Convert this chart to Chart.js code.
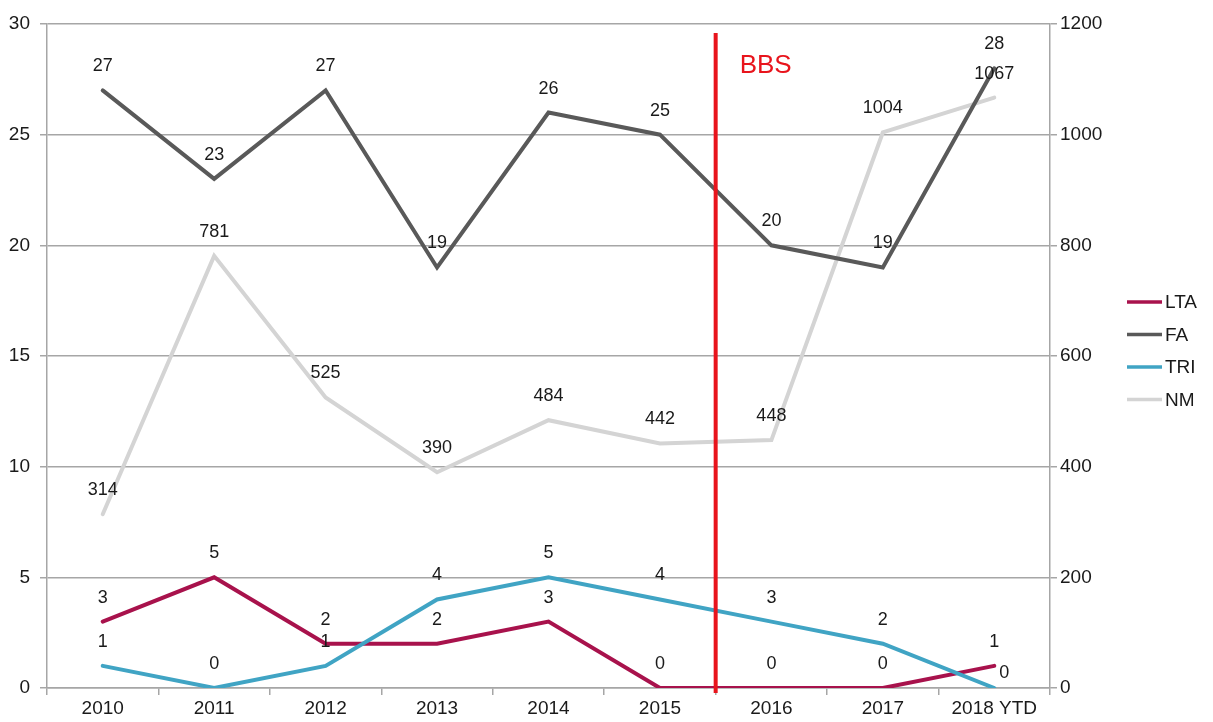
<!DOCTYPE html>
<html>
<head>
<meta charset="utf-8">
<script src="https://cdn.jsdelivr.net/npm/chart.js@4"></script>
<style>
  html, body { margin: 0; padding: 0; background: #ffffff; }
  #wrap { width: 1213px; height: 722px; position: relative; }
</style>
</head>
<body>
<div id="wrap"><canvas id="c" width="1213" height="722"></canvas></div>
<script>
const categories = ["2010", "2011", "2012", "2013", "2014", "2015", "2016", "2017", "2018 YTD"];
const ltaValues = [3, 5, 2, 2, 3, 0, 0, 0, 1];
const faValues  = [27, 23, 27, 19, 26, 25, 20, 19, 28];
const triValues = [1, 0, 1, 4, 5, 4, 3, 2, 0];
const nmValues  = [314, 781, 525, 390, 484, 442, 448, 1004, 1067];
const leftTicks = [0, 5, 10, 15, 20, 25, 30];
const rightTicks = [0, 200, 400, 600, 800, 1000, 1200];
const markerLabel = "BBS";
const markerAfterCategory = "2015";

const FONT = "'Liberation Sans', Arial, sans-serif";
const TEXT = "#1a1a1a";
const GRID = "#a6a6a6";

const colors = { LTA: "#a8124c", FA: "#595959", TRI: "#40a4c4", NM: "#d4d4d4" };

const labelPlugin = {
  id: "valueLabels",
  afterDatasetsDraw(chart) {
    const ctx = chart.ctx;
    const xs = chart.scales.x;
    const area = chart.chartArea;
    const i = categories.indexOf(markerAfterCategory);
    const mx = (xs.getPixelForValue(i) + xs.getPixelForValue(i + 1)) / 2;
    ctx.save();
    ctx.strokeStyle = "#e8141c";
    ctx.lineWidth = 4;
    ctx.beginPath();
    ctx.moveTo(mx, area.top + 9);
    ctx.lineTo(mx, area.bottom + 5);
    ctx.stroke();
    ctx.fillStyle = "#e8141c";
    ctx.font = "26px " + FONT;
    ctx.textAlign = "left";
    ctx.textBaseline = "middle";
    ctx.fillText(markerLabel, mx + 24, area.top + 42);
    ctx.restore();

    ctx.save();
    ctx.font = "18px " + FONT;
    ctx.fillStyle = TEXT;
    ctx.textAlign = "center";
    ctx.textBaseline = "middle";
    chart.data.datasets.forEach((ds, di) => {
      const meta = chart.getDatasetMeta(di);
      meta.data.forEach((pt, pi) => {
        let dx = 0, dy = -24;
        if (ds.label === "TRI" && pi === categories.length - 1) { dx = 10; dy = -15; }
        ctx.fillText(String(ds.data[pi]), pt.x + dx, pt.y + dy);
      });
    });
    ctx.restore();
  },
  afterDraw(chart) {
    const ctx = chart.ctx;
    const area = chart.chartArea;
    const x0 = area.right + 77;
    const y0 = area.top + 278;
    ctx.save();
    ctx.font = "19px " + FONT;
    ctx.textAlign = "left";
    ctx.textBaseline = "middle";
    chart.data.datasets.forEach((ds, k) => {
      const y = y0 + k * 32.5;
      ctx.strokeStyle = ds.borderColor;
      ctx.lineWidth = 3.5;
      ctx.beginPath();
      ctx.moveTo(x0, y);
      ctx.lineTo(x0 + 35, y);
      ctx.stroke();
      ctx.fillStyle = TEXT;
      ctx.fillText(ds.label, x0 + 38, y + 1);
    });
    ctx.restore();
  }
};

new Chart(document.getElementById("c"), {
  type: "line",
  data: {
    labels: categories,
    datasets: [
      { label: "LTA", data: ltaValues, borderColor: colors.LTA, yAxisID: "y", order: 2 },
      { label: "FA",  data: faValues,  borderColor: colors.FA,  yAxisID: "y", order: 3 },
      { label: "TRI", data: triValues, borderColor: colors.TRI, yAxisID: "y", order: 1 },
      { label: "NM",  data: nmValues,  borderColor: colors.NM,  yAxisID: "y1", order: 4 }
    ]
  },
  options: {
    responsive: false,
    animation: false,
    devicePixelRatio: 1,
    elements: {
      line: { borderWidth: 4, tension: 0, borderCapStyle: "round", borderJoinStyle: "miter", fill: false },
      point: { radius: 0, hoverRadius: 0 }
    },
    layout: { padding: { top: 24, right: 101, left: 0, bottom: 0 } },
    plugins: { legend: { display: false }, tooltip: { enabled: false } },
    scales: {
      x: {
        offset: true,
        grid: { offset: true, drawOnChartArea: false, color: GRID, lineWidth: 1.5, tickLength: 7 },
        border: { color: GRID, width: 1.5 },
        ticks: { color: TEXT, font: { family: FONT, size: 19 }, padding: 2, maxRotation: 0, autoSkip: false },
        afterFit(s) { s.height = 34; }
      },
      y: {
        position: "left",
        min: leftTicks[0], max: leftTicks[leftTicks.length - 1],
        afterBuildTicks(s) { s.ticks = leftTicks.map(v => ({ value: v })); },
        grid: { color: GRID, lineWidth: 1.5, tickLength: 7 },
        border: { color: GRID, width: 1.5 },
        ticks: { color: TEXT, font: { family: FONT, size: 19 }, padding: 10, callback: v => String(v) },
        afterFit(s) { s.width = 47; }
      },
      y1: {
        position: "right",
        min: rightTicks[0], max: rightTicks[rightTicks.length - 1],
        afterBuildTicks(s) { s.ticks = rightTicks.map(v => ({ value: v })); },
        grid: { drawOnChartArea: false, color: GRID, lineWidth: 1.5, tickLength: 7 },
        border: { color: GRID, width: 1.5 },
        ticks: { color: TEXT, font: { family: FONT, size: 19 }, padding: 3, callback: v => String(v) },
        afterFit(s) { s.width = 62; }
      }
    }
  },
  plugins: [labelPlugin]
});
</script>
</body>
</html>
